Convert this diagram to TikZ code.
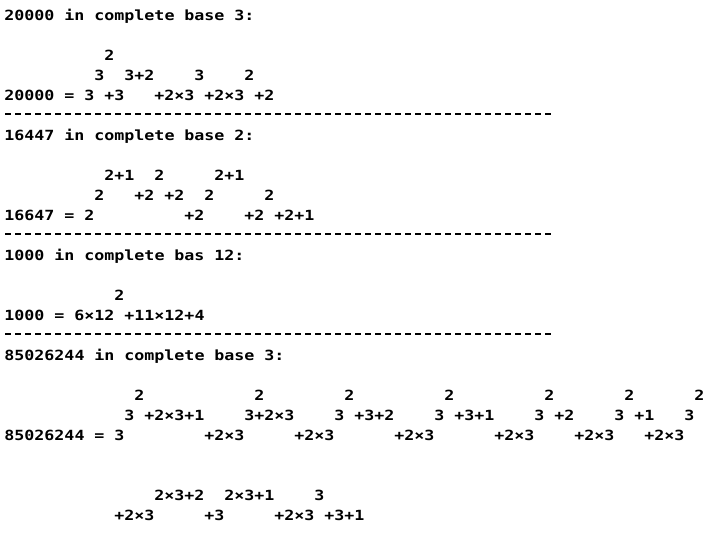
\documentclass[tikz,border=0pt]{standalone}
\usepackage{fontspec}
\newfontfamily\termfont[FakeStretch=1.19]{DejaVu Sans Mono Bold}
\tikzset{
  txt/.style={inner sep=0pt, outer sep=0pt, anchor=base west, font=\termfont\fontsize{14pt}{14pt}\selectfont, text=black},
  sepline/.style={line width=2pt, dash pattern=on 6pt off 4pt, black}
}
\begin{document}
\begin{tikzpicture}
\fill[white] (0,0) rectangle (719pt,-533pt);
\useasboundingbox (0,0) rectangle (719pt,-533pt);
\begin{scope}[x=10pt,y=-20pt,shift={(4.3pt,-20pt)}]
% block 1
\node[txt] (a0a) at (0,0) {20000};
\node[txt] (a0b) at (6,0) {in};
\node[txt] (a0c) at (9,0) {complete};
\node[txt] (a0d) at (18,0) {base};
\node[txt] (a0e) at (23,0) {3:};
\node[txt] (a2a) at (10,2) {2};
\node[txt] (a3a) at (9,3) {3};
\node[txt] (a3b) at (12,3) {3+2};
\node[txt] (a3c) at (19,3) {3};
\node[txt] (a3d) at (24,3) {2};
\node[txt] (a4a) at (0,4) {20000};
\node[txt] (a4b) at (6,4) {=};
\node[txt] (a4c) at (8,4) {3};
\node[txt] (a4d) at (10,4) {+3};
\node[txt] (a4e) at (15,4) {+2×3};
\node[txt] (a4f) at (20,4) {+2×3};
\node[txt] (a4g) at (25,4) {+2};
\coordinate (s1a) at (0.1,4.7);
\coordinate (s1b) at (54.9,4.7);
\draw[sepline] (s1a) -- (s1b);
% block 2
\node[txt] (b0a) at (0,6) {16447};
\node[txt] (b0b) at (6,6) {in};
\node[txt] (b0c) at (9,6) {complete};
\node[txt] (b0d) at (18,6) {base};
\node[txt] (b0e) at (23,6) {2:};
\node[txt] (b8a) at (10,8) {2+1};
\node[txt] (b8b) at (15,8) {2};
\node[txt] (b8c) at (21,8) {2+1};
\node[txt] (b9a) at (9,9) {2};
\node[txt] (b9b) at (13,9) {+2};
\node[txt] (b9c) at (16,9) {+2};
\node[txt] (b9d) at (20,9) {2};
\node[txt] (b9e) at (26,9) {2};
\node[txt] (b10a) at (0,10) {16647};
\node[txt] (b10b) at (6,10) {=};
\node[txt] (b10c) at (8,10) {2};
\node[txt] (b10d) at (18,10) {+2};
\node[txt] (b10e) at (24,10) {+2};
\node[txt] (b10f) at (27,10) {+2+1};
\coordinate (s2a) at (0.1,10.7);
\coordinate (s2b) at (54.9,10.7);
\draw[sepline] (s2a) -- (s2b);
% block 3
\node[txt] (c0a) at (0,12) {1000};
\node[txt] (c0b) at (5,12) {in};
\node[txt] (c0c) at (8,12) {complete};
\node[txt] (c0d) at (17,12) {bas};
\node[txt] (c0e) at (21,12) {12:};
\node[txt] (c14a) at (11,14) {2};
\node[txt] (c15a) at (0,15) {1000};
\node[txt] (c15b) at (5,15) {=};
\node[txt] (c15c) at (7,15) {6×12};
\node[txt] (c15d) at (12,15) {+11×12+4};
\coordinate (s3a) at (0.1,15.7);
\coordinate (s3b) at (54.9,15.7);
\draw[sepline] (s3a) -- (s3b);
% block 4
\node[txt] (d0a) at (0,17) {85026244};
\node[txt] (d0b) at (9,17) {in};
\node[txt] (d0c) at (12,17) {complete};
\node[txt] (d0d) at (21,17) {base};
\node[txt] (d0e) at (26,17) {3:};
\node[txt] (d19a) at (13,19) {2};
\node[txt] (d19b) at (25,19) {2};
\node[txt] (d19c) at (34,19) {2};
\node[txt] (d19d) at (44,19) {2};
\node[txt] (d19e) at (54,19) {2};
\node[txt] (d19f) at (62,19) {2};
\node[txt] (d19g) at (69,19) {2};
\node[txt] (d20a) at (12,20) {3};
\node[txt] (d20b) at (14,20) {+2×3+1};
\node[txt] (d20c) at (24,20) {3+2×3};
\node[txt] (d20d) at (33,20) {3};
\node[txt] (d20e) at (35,20) {+3+2};
\node[txt] (d20f) at (43,20) {3};
\node[txt] (d20g) at (45,20) {+3+1};
\node[txt] (d20h) at (53,20) {3};
\node[txt] (d20i) at (55,20) {+2};
\node[txt] (d20j) at (61,20) {3};
\node[txt] (d20k) at (63,20) {+1};
\node[txt] (d20l) at (68,20) {3};
\node[txt] (d21a) at (0,21) {85026244};
\node[txt] (d21b) at (9,21) {=};
\node[txt] (d21c) at (11,21) {3};
\node[txt] (d21d) at (20,21) {+2×3};
\node[txt] (d21e) at (29,21) {+2×3};
\node[txt] (d21f) at (39,21) {+2×3};
\node[txt] (d21g) at (49,21) {+2×3};
\node[txt] (d21h) at (57,21) {+2×3};
\node[txt] (d21i) at (64,21) {+2×3};
\node[txt] (d24a) at (15,24) {2×3+2};
\node[txt] (d24b) at (22,24) {2×3+1};
\node[txt] (d24c) at (31,24) {3};
\node[txt] (d25a) at (11,25) {+2×3};
\node[txt] (d25b) at (20,25) {+3};
\node[txt] (d25c) at (27,25) {+2×3};
\node[txt] (d25d) at (32,25) {+3+1};
\end{scope}
\end{tikzpicture}
\end{document}
